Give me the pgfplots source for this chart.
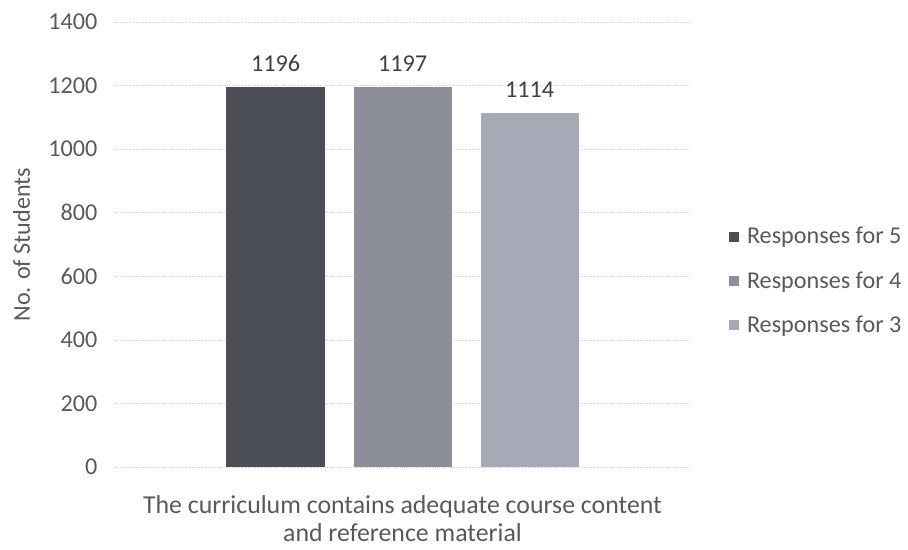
\documentclass[border=0pt]{standalone}
\usepackage{fontspec}
\setmainfont{Carlito}
\usepackage{pgfplots}
\pgfplotsset{compat=1.18}
\usetikzlibrary{calc}
\definecolor{barA}{HTML}{4B4F55}
\definecolor{barB}{HTML}{8C8F9A}
\definecolor{barC}{HTML}{A7A9B7}
\definecolor{txt}{HTML}{595959}
\begin{document}
\begin{tikzpicture}[font=\fontsize{14.5}{17}\selectfont]
\begin{axis}[
  name=ax,
  scale only axis,
  width=345pt, height=267pt,
  ybar,
  xmin=-1, xmax=1,
  ymin=0, ymax=1400,
  ytick={0,200,...,1400},
  xtick=\empty,
  /pgf/number format/assume math mode=true,
  /pgf/number format/1000 sep={},
  axis line style={draw=none},
  ytick style={draw=none},
  ymajorgrids,
  major grid style={gray!35, densely dotted},
  yticklabel style={text=txt, xshift=-7pt},
  ylabel={No. of Students},
  ylabel style={at={(rel axis cs:0,0.5)}, anchor=center, text=txt, yshift=56pt},
  xlabel={The curriculum contains adequate course content\\and reference material},
  xlabel style={at={(rel axis cs:0.5,0)}, anchor=north, yshift=-13.6pt, align=center, text=txt, font=\fontsize{15.5}{16.8}\selectfont},
  bar width=58.8pt,
  nodes near coords,
  nodes near coords style={text=black!75, yshift=5.6pt},
  legend style={draw=none, at={(1.058,0.418)}, anchor=west, row sep=11pt, text=txt, fill=none},
  legend cell align=left,
  legend image code/.code={\fill[#1] (0pt,-3pt) rectangle (6pt,3pt); \path (0pt,0pt) -- (9pt,0pt);},
]
\addplot[fill=barA, draw=none, bar shift=-76.2pt] coordinates {(0,1196)};
\addplot[fill=barB, draw=none, bar shift=0pt] coordinates {(0,1197)};
\addplot[fill=barC, draw=none, bar shift=76.2pt] coordinates {(0,1114)};
\legend{Responses for 5, Responses for 4, Responses for 3}
\end{axis}
\pgfresetboundingbox
\path ($(ax.south west)+(-69pt,-49.2pt)$) rectangle ($(ax.north east)+(130.8pt,13.2pt)$);
\end{tikzpicture}
\end{document}
